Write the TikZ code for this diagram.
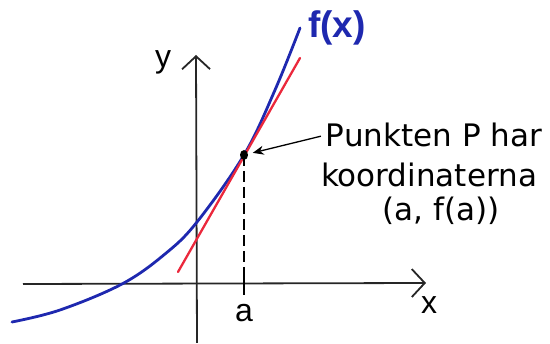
\documentclass[tikz,border=0pt]{standalone}
\usepackage{fontspec}
\setmainfont{Liberation Sans}
\newfontfamily\annfont{DejaVu Sans}
\usetikzlibrary{arrows.meta,shapes.geometric}
\definecolor{fblue}{RGB}{30,40,175}
\definecolor{tred}{RGB}{235,40,60}
\tikzset{
  axisline/.style={line width=1.8pt, draw=black!85},
  curveblue/.style={line width=2.8pt, draw=fblue, line cap=round},
  tangentred/.style={line width=2.3pt, draw=tred, line cap=round},
  dropline/.style={line width=1.8pt, dash pattern=on 11pt off 5pt},
  lbl/.style={font=\fontsize{32}{36}\selectfont, inner sep=0pt},
  ann/.style={font=\annfont\fontsize{31}{36}\selectfont, inner sep=0pt}
}
\begin{document}
\begin{tikzpicture}[x=1pt,y=-1pt]
\useasboundingbox (0,0) rectangle (550,344);
% axes
\coordinate (xs) at (23,284);
\coordinate (xe) at (426,283);
\coordinate (ys) at (197,343);
\coordinate (ye) at (196,55);
\draw[axisline, -{Straight Barb[length=13pt,width=28pt,line width=1.8pt]}] (xs) -- (xe);
\draw[axisline, -{Straight Barb[length=13pt,width=28pt,line width=1.8pt]}] (ys) -- (ye);
% curve
\draw[curveblue] plot[smooth, tension=0.6] coordinates {(12,322) (60,310) (122,284) (165,254) (197,222) (244,155) (275,90) (300,28)};
% tangent
\coordinate (t0) at (178,272);
\coordinate (t1) at (300,58);
\draw[tangentred] (t0) -- (t1);
% point P
\node[ellipse, fill=black, minimum width=8pt, minimum height=10pt, inner sep=0pt] (P) at (244,155) {};
\coordinate (afoot) at (244,268);
\coordinate (tickb) at (244,295);
\draw[dropline] (P.center) -- (afoot);
\draw[line width=2.8pt] (afoot) -- (tickb);
% labels
\node[lbl] (ylab) at (163,62) {y};
\node[lbl] (xlab) at (429,305) {x};
\node[lbl] (alab) at (244,313) {a};
\node[lbl, text=fblue, font=\fontsize{37}{40}\selectfont\bfseries] (flab) at (337,28) {f(x)};
% annotation
\node[ann] (l1) at (434,135) {Punkten P har};
\node[ann] (l2) at (429,175) {koordinaterna};
\node[ann] (l3) at (441,211) {(a, f(a))};
\draw[line width=1.3pt, -{Stealth[length=11pt,width=9pt]}, shorten <=5pt, shorten >=9pt] (l1.west) -- (P.center);
\end{tikzpicture}
\end{document}
